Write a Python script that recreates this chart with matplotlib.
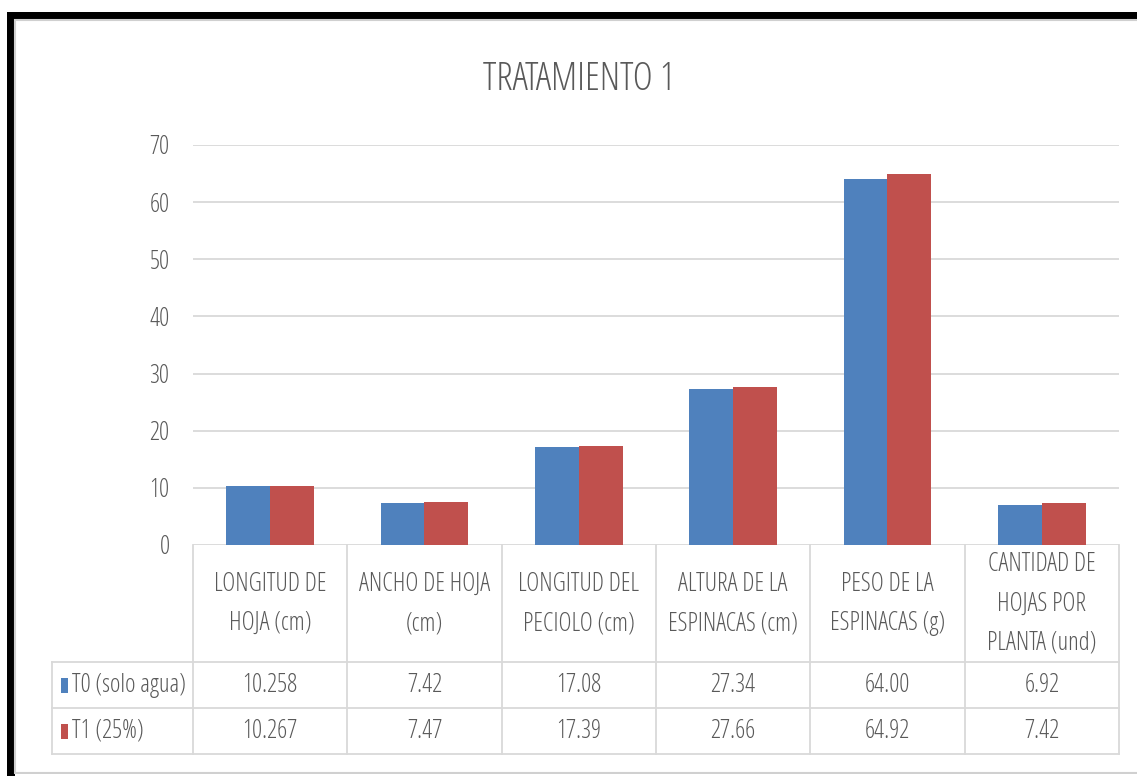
import matplotlib.pyplot as plt
from matplotlib.patches import Rectangle
from matplotlib.lines import Line2D

categories = [
    "LONGITUD DE\nHOJA (cm)",
    "ANCHO DE HOJA\n(cm)",
    "LONGITUD DEL\nPECIOLO (cm)",
    "ALTURA DE LA\nESPINACAS (cm)",
    "PESO DE LA\nESPINACAS (g)",
    "CANTIDAD DE\nHOJAS POR\nPLANTA (und)",
]
series_names = ["T0 (solo agua)", "T1 (25%)"]
t0_values = [10.258, 7.42, 17.08, 27.34, 64.00, 6.92]
t1_values = [10.267, 7.47, 17.39, 27.66, 64.92, 7.42]
decimals = [3, 2, 2, 2, 2, 2]
y_ticks = [0, 10, 20, 30, 40, 50, 60, 70]

BLUE = "#4f81bd"
RED = "#c0504d"
GRID = "#d9d9d9"
TEXT = "#595959"
FS = 18

plt.rcParams["font.family"] = ["Open Sans", "DejaVu Sans"]
plt.rcParams["font.stretch"] = "condensed"
plt.rcParams["font.weight"] = 300

W, H = 1137, 776
fig = plt.figure(figsize=(W / 100, H / 100), dpi=100)


def fx(px):
    return px / W


def fy(py):
    return 1 - py / H


# black frame on top/left, white chart area inside
fig.patches.append(Rectangle((fx(7), 0), 1, fy(12), transform=fig.transFigure,
                             facecolor="black", edgecolor="none", zorder=-3))
fig.patches.append(Rectangle((fx(15), fy(773)), 1, fy(20) - fy(773), transform=fig.transFigure,
                             facecolor="white", edgecolor="#d0d0d0", lw=1.5, zorder=-2))
fig.patches.append(Rectangle((fx(15), 0), 1, fy(774), transform=fig.transFigure,
                             facecolor="white", edgecolor="none", zorder=-2))

# plot area
x0, x1 = 193, 1119
ax = fig.add_axes([fx(x0), fy(545), fx(x1) - fx(x0), fy(145) - fy(545)])
ax.set_facecolor("none")
n = len(categories)
xs = list(range(n))
bw = 0.285
ax.bar([x - bw / 2 for x in xs], t0_values, width=bw, color=BLUE, zorder=3)
ax.bar([x + bw / 2 for x in xs], t1_values, width=bw, color=RED, zorder=3)
ax.set_xlim(-0.5, n - 0.5)
ax.set_ylim(0, 70)
ax.set_yticks(y_ticks)
ax.set_yticklabels([str(t) for t in y_ticks], fontsize=FS, color=TEXT)
ax.tick_params(axis="y", length=0, pad=17)
ax.set_xticks([])
for s in ax.spines.values():
    s.set_visible(False)
for t in y_ticks:
    ax.axhline(t, color=GRID, lw=1.3, zorder=1)

fig.text(fx(579), fy(80), "TRATAMIENTO 1", ha="center", va="center",
         fontsize=27.5, color=TEXT)

# data table under the plot
col_w = (x1 - x0) / n
top, r1, r2, bot = 545, 662, 708, 754
leg_x = 52
lc = dict(color=GRID, lw=1.3, transform=fig.transFigure)
for i in range(n + 1):
    xp = x0 + i * col_w
    fig.add_artist(Line2D([fx(xp)] * 2, [fy(top), fy(bot)], **lc))
fig.add_artist(Line2D([fx(leg_x)] * 2, [fy(r1), fy(bot)], **lc))
for yp in (r1, r2, bot):
    fig.add_artist(Line2D([fx(leg_x), fx(x1)], [fy(yp)] * 2, **lc))

for i, label in enumerate(categories):
    cx = x0 + (i + 0.5) * col_w
    fig.text(fx(cx), fy(604), label, ha="center", va="center",
             fontsize=FS, color=TEXT, linespacing=1.75)
    fig.text(fx(cx), fy((r1 + r2) / 2), f"{t0_values[i]:.{decimals[i]}f}",
             ha="center", va="center", fontsize=FS, color=TEXT)
    fig.text(fx(cx), fy((r2 + bot) / 2), f"{t1_values[i]:.{decimals[i]}f}",
             ha="center", va="center", fontsize=FS, color=TEXT)

for name, color, (ya, yb) in zip(series_names, [BLUE, RED], [(r1, r2), (r2, bot)]):
    yc = (ya + yb) / 2
    fig.patches.append(Rectangle((fx(61), fy(yc + 7.5)), fx(7), 15 / H,
                                 transform=fig.transFigure, facecolor=color, edgecolor="none"))
    fig.text(fx(72), fy(yc), name, ha="left", va="center", fontsize=FS, color=TEXT)

fig.savefig("out.png", dpi=100)
